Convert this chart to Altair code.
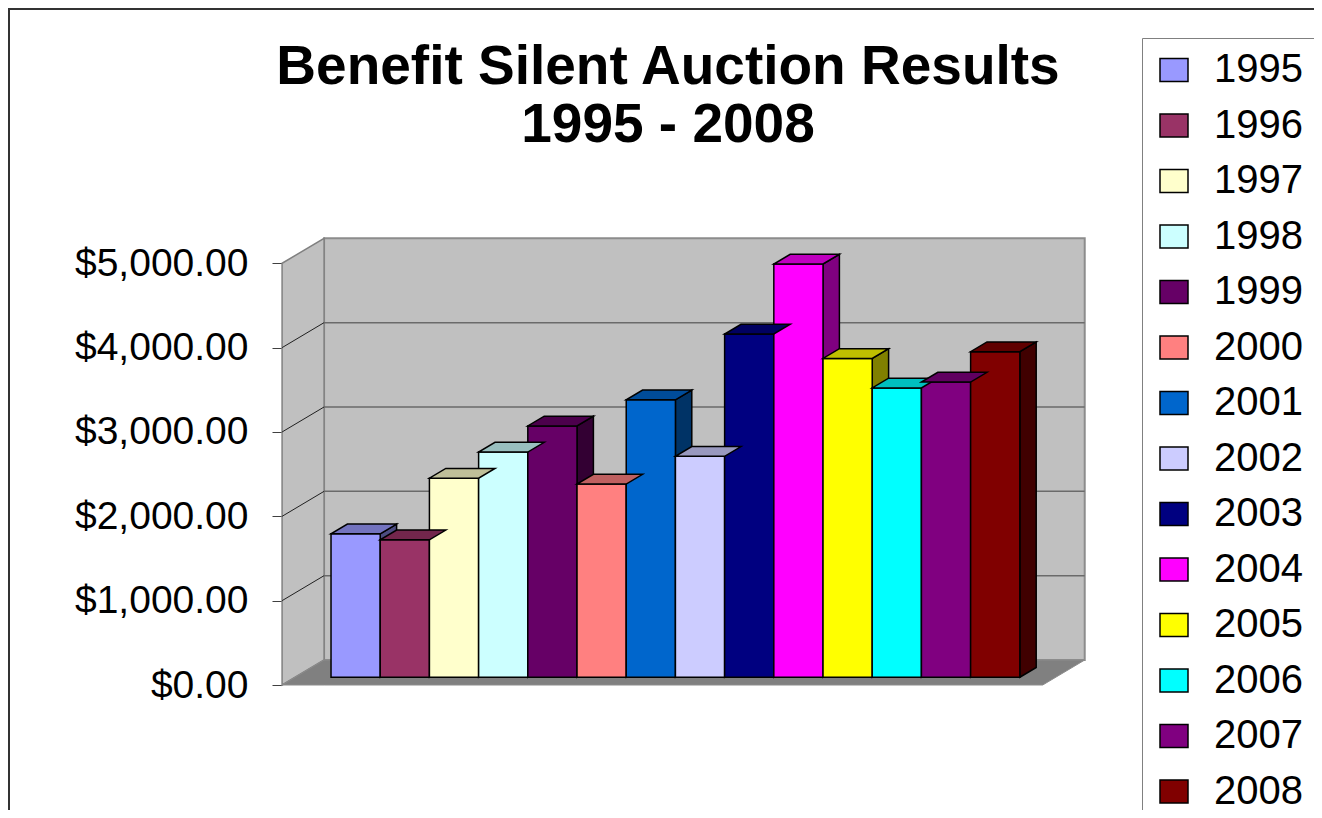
import altair as alt
import pandas as pd

# ---------------- data ----------------
years = ["1995", "1996", "1997", "1998", "1999", "2000", "2001",
         "2002", "2003", "2004", "2005", "2006", "2007", "2008"]
amounts = [1700, 1630, 2360, 2670, 2980, 2290, 3290,
           2620, 4070, 4900, 3780, 3430, 3500, 3860]
colors = ["#9999FF", "#993366", "#FFFFCC", "#CCFFFF", "#660066", "#FF8080", "#0066CC",
          "#CCCCFF", "#000080", "#FF00FF", "#FFFF00", "#00FFFF", "#800080", "#800000"]
tick_values = [0, 1000, 2000, 3000, 4000, 5000]
title_lines = ["Benefit Silent Auction Results", "1995 - 2008"]

# ---------------- layout constants ----------------
W, H = 1306, 802
ORIGIN = 8                 # page margin
UNIT_PX = 49.2             # pixels per bar slot
X0_PAGE = 318.0            # page x of slot 0 on the front plane
Y0_PAGE = 685.0            # page y of $0 on the front plane
PX_PER_DOLLAR = 0.08434
DEPTH_DX_PX, DEPTH_DY_PX = 42.0, 25.0   # oblique depth offset of the full floor
BAR_Z0, BAR_Z1 = 0.31, 0.70             # bar depth (fraction of floor depth)
SIDE_MARGIN = 0.73

x_dom = [(ORIGIN - X0_PAGE) / UNIT_PX, (ORIGIN + W - X0_PAGE) / UNIT_PX]
y_dom = [-(ORIGIN + H - Y0_PAGE) / PX_PER_DOLLAR, (Y0_PAGE - ORIGIN) / PX_PER_DOLLAR]
DX = DEPTH_DX_PX / UNIT_PX
DY = DEPTH_DY_PX / PX_PER_DOLLAR

xs = alt.Scale(domain=x_dom, nice=False, zero=False)
ys = alt.Scale(domain=y_dom, nice=False, zero=False)

yaxis = alt.Axis(values=tick_values, format="$,.2f", orient="left",
                 offset=-(282 - ORIGIN), domain=False, grid=False,
                 ticks=True, tickSize=10, tickColor="#404040", tickWidth=1,
                 labelFont="Liberation Sans", labelFontSize=39, labelColor="black",
                 labelPadding=24, title=None)


def shade(hx, f):
    r, g, b = int(hx[1:3], 16), int(hx[3:5], 16), int(hx[5:7], 16)
    return "#%02x%02x%02x" % (round(r * f), round(g * f), round(b * f))


n = len(years)
left, right = -SIDE_MARGIN, n + SIDE_MARGIN
top_val = max(tick_values)

back_df = pd.DataFrame({"x": [left + DX], "x2": [right + DX], "y": [DY], "y2": [top_val + DY]})
side_df = pd.DataFrame({"x": [left, left + DX], "y": [0, DY], "y2": [top_val, top_val + DY]})
floor_df = pd.DataFrame({"x": [left, left + DX, right, right + DX],
                         "y": [0, 0, 0, DY], "y2": [0, DY, DY, DY]})
inner = tick_values[1:-1]
grid_back_df = pd.DataFrame({"x": [left + DX] * len(inner), "x2": [right + DX] * len(inner),
                             "y": [v + DY for v in inner], "y2": [v + DY for v in inner]})
grid_side_df = pd.DataFrame({"x": [left] * len(inner), "x2": [left + DX] * len(inner),
                             "y": inner, "y2": [v + DY for v in inner]})

a, b = BAR_Z0 * DX, BAR_Z1 * DX
ay, by = BAR_Z0 * DY, BAR_Z1 * DY
front_rows, top_rows, side_rows = [], [], []
for i, (yr, v, c) in enumerate(zip(years, amounts, colors)):
    front_rows.append({"year": yr, "x": i + a, "x2": i + 1 + a, "y": ay, "y2": v + ay})
    tc = shade(c, 0.75)
    for xx, y1, y2 in [(i + a, v + ay, v + ay), (i + b, v + ay, v + by),
                       (i + 1 + a, v + ay, v + by), (i + 1 + b, v + by, v + by)]:
        top_rows.append({"year": yr, "x": xx, "y": y1, "y2": y2, "c": tc})
    sc = shade(c, 0.5)
    for xx, y1, y2 in [(i + 1 + a, ay, v + ay), (i + 1 + b, by, v + by)]:
        side_rows.append({"year": yr, "x": xx, "y": y1, "y2": y2, "c": sc})
front_df = pd.DataFrame(front_rows)
top_df = pd.DataFrame(top_rows)
side_face_df = pd.DataFrame(side_rows)

X = lambda: alt.X("x:Q", scale=xs, axis=None)
Y = lambda: alt.Y("y:Q", scale=ys, axis=yaxis, stack=None)

back = alt.Chart(back_df).mark_rect(fill="#C0C0C0", stroke="#8C8C8C", strokeWidth=2).encode(
    x=X(), x2="x2:Q", y=Y(), y2="y2:Q")
side = alt.Chart(side_df).mark_area(fill="#C0C0C0", stroke="#808080", strokeWidth=1.5, opacity=1).encode(
    x=X(), y=Y(), y2="y2:Q")
floor = alt.Chart(floor_df).mark_area(fill="#808080", stroke="#8C8C8C", strokeWidth=1, opacity=1).encode(
    x=X(), y=Y(), y2="y2:Q")
grid_back = alt.Chart(grid_back_df).mark_rule(color="#6A6A6A", strokeWidth=1.5).encode(
    x=X(), x2="x2:Q", y=Y(), y2="y2:Q")
grid_side = alt.Chart(grid_side_df).mark_rule(color="#202020", strokeWidth=1).encode(
    x=X(), x2="x2:Q", y=Y(), y2="y2:Q")

side_faces = alt.Chart(side_face_df).mark_area(stroke="black", strokeWidth=1.5, opacity=1).encode(
    x=X(), y=Y(), y2="y2:Q", detail="year:N", fill=alt.Fill("c:N", scale=None))
top_faces = alt.Chart(top_df).mark_area(stroke="black", strokeWidth=1.5, opacity=1).encode(
    x=X(), y=Y(), y2="y2:Q", detail="year:N", fill=alt.Fill("c:N", scale=None))

front = alt.Chart(front_df).mark_rect(stroke="black", strokeWidth=1.5).encode(
    x=X(), x2="x2:Q", y=Y(), y2="y2:Q",
    fill=alt.Fill("year:N", scale=alt.Scale(domain=years, range=colors),
                  legend=alt.Legend(title=None, orient="none", legendX=1142 - ORIGIN,
                                    legendY=38 - ORIGIN, direction="vertical",
                                    labelFont="Liberation Sans", labelFontSize=40,
                                    labelColor="black", labelLimit=300,
                                    symbolType="M-1,-0.82H1V0.82H-1Z", symbolSize=784,
                                    symbolStrokeColor="black", symbolStrokeWidth=1.5,
                                    symbolOpacity=1, rowPadding=15.5, labelOffset=20,
                                    padding=12, strokeColor="#808080", fillColor="white")))

title = alt.Chart(pd.DataFrame({"k": [0]})).mark_text(
    text=title_lines, font="Liberation Sans", fontSize=55, fontWeight="bold",
    align="center", baseline="alphabetic", lineHeight=58, color="black").encode(
    x=alt.value(668 - ORIGIN), y=alt.value(84 - ORIGIN))

frame = alt.Chart(pd.DataFrame({"k": [0]})).mark_rect(
    filled=False, stroke="#333333", strokeWidth=2).encode(
    x=alt.value(1), y=alt.value(1), x2=alt.value(W + 40), y2=alt.value(H + 40))

chart = alt.layer(back, side, floor, grid_back, grid_side, side_faces, front, top_faces,
                  title, frame).resolve_scale(fill="independent").properties(
    width=W, height=H, autosize=alt.AutoSizeParams(type="none"), padding=0,
    background="white").configure_view(stroke="transparent")

chart.save("out.html", embed_options={"renderer": "svg", "actions": False})
